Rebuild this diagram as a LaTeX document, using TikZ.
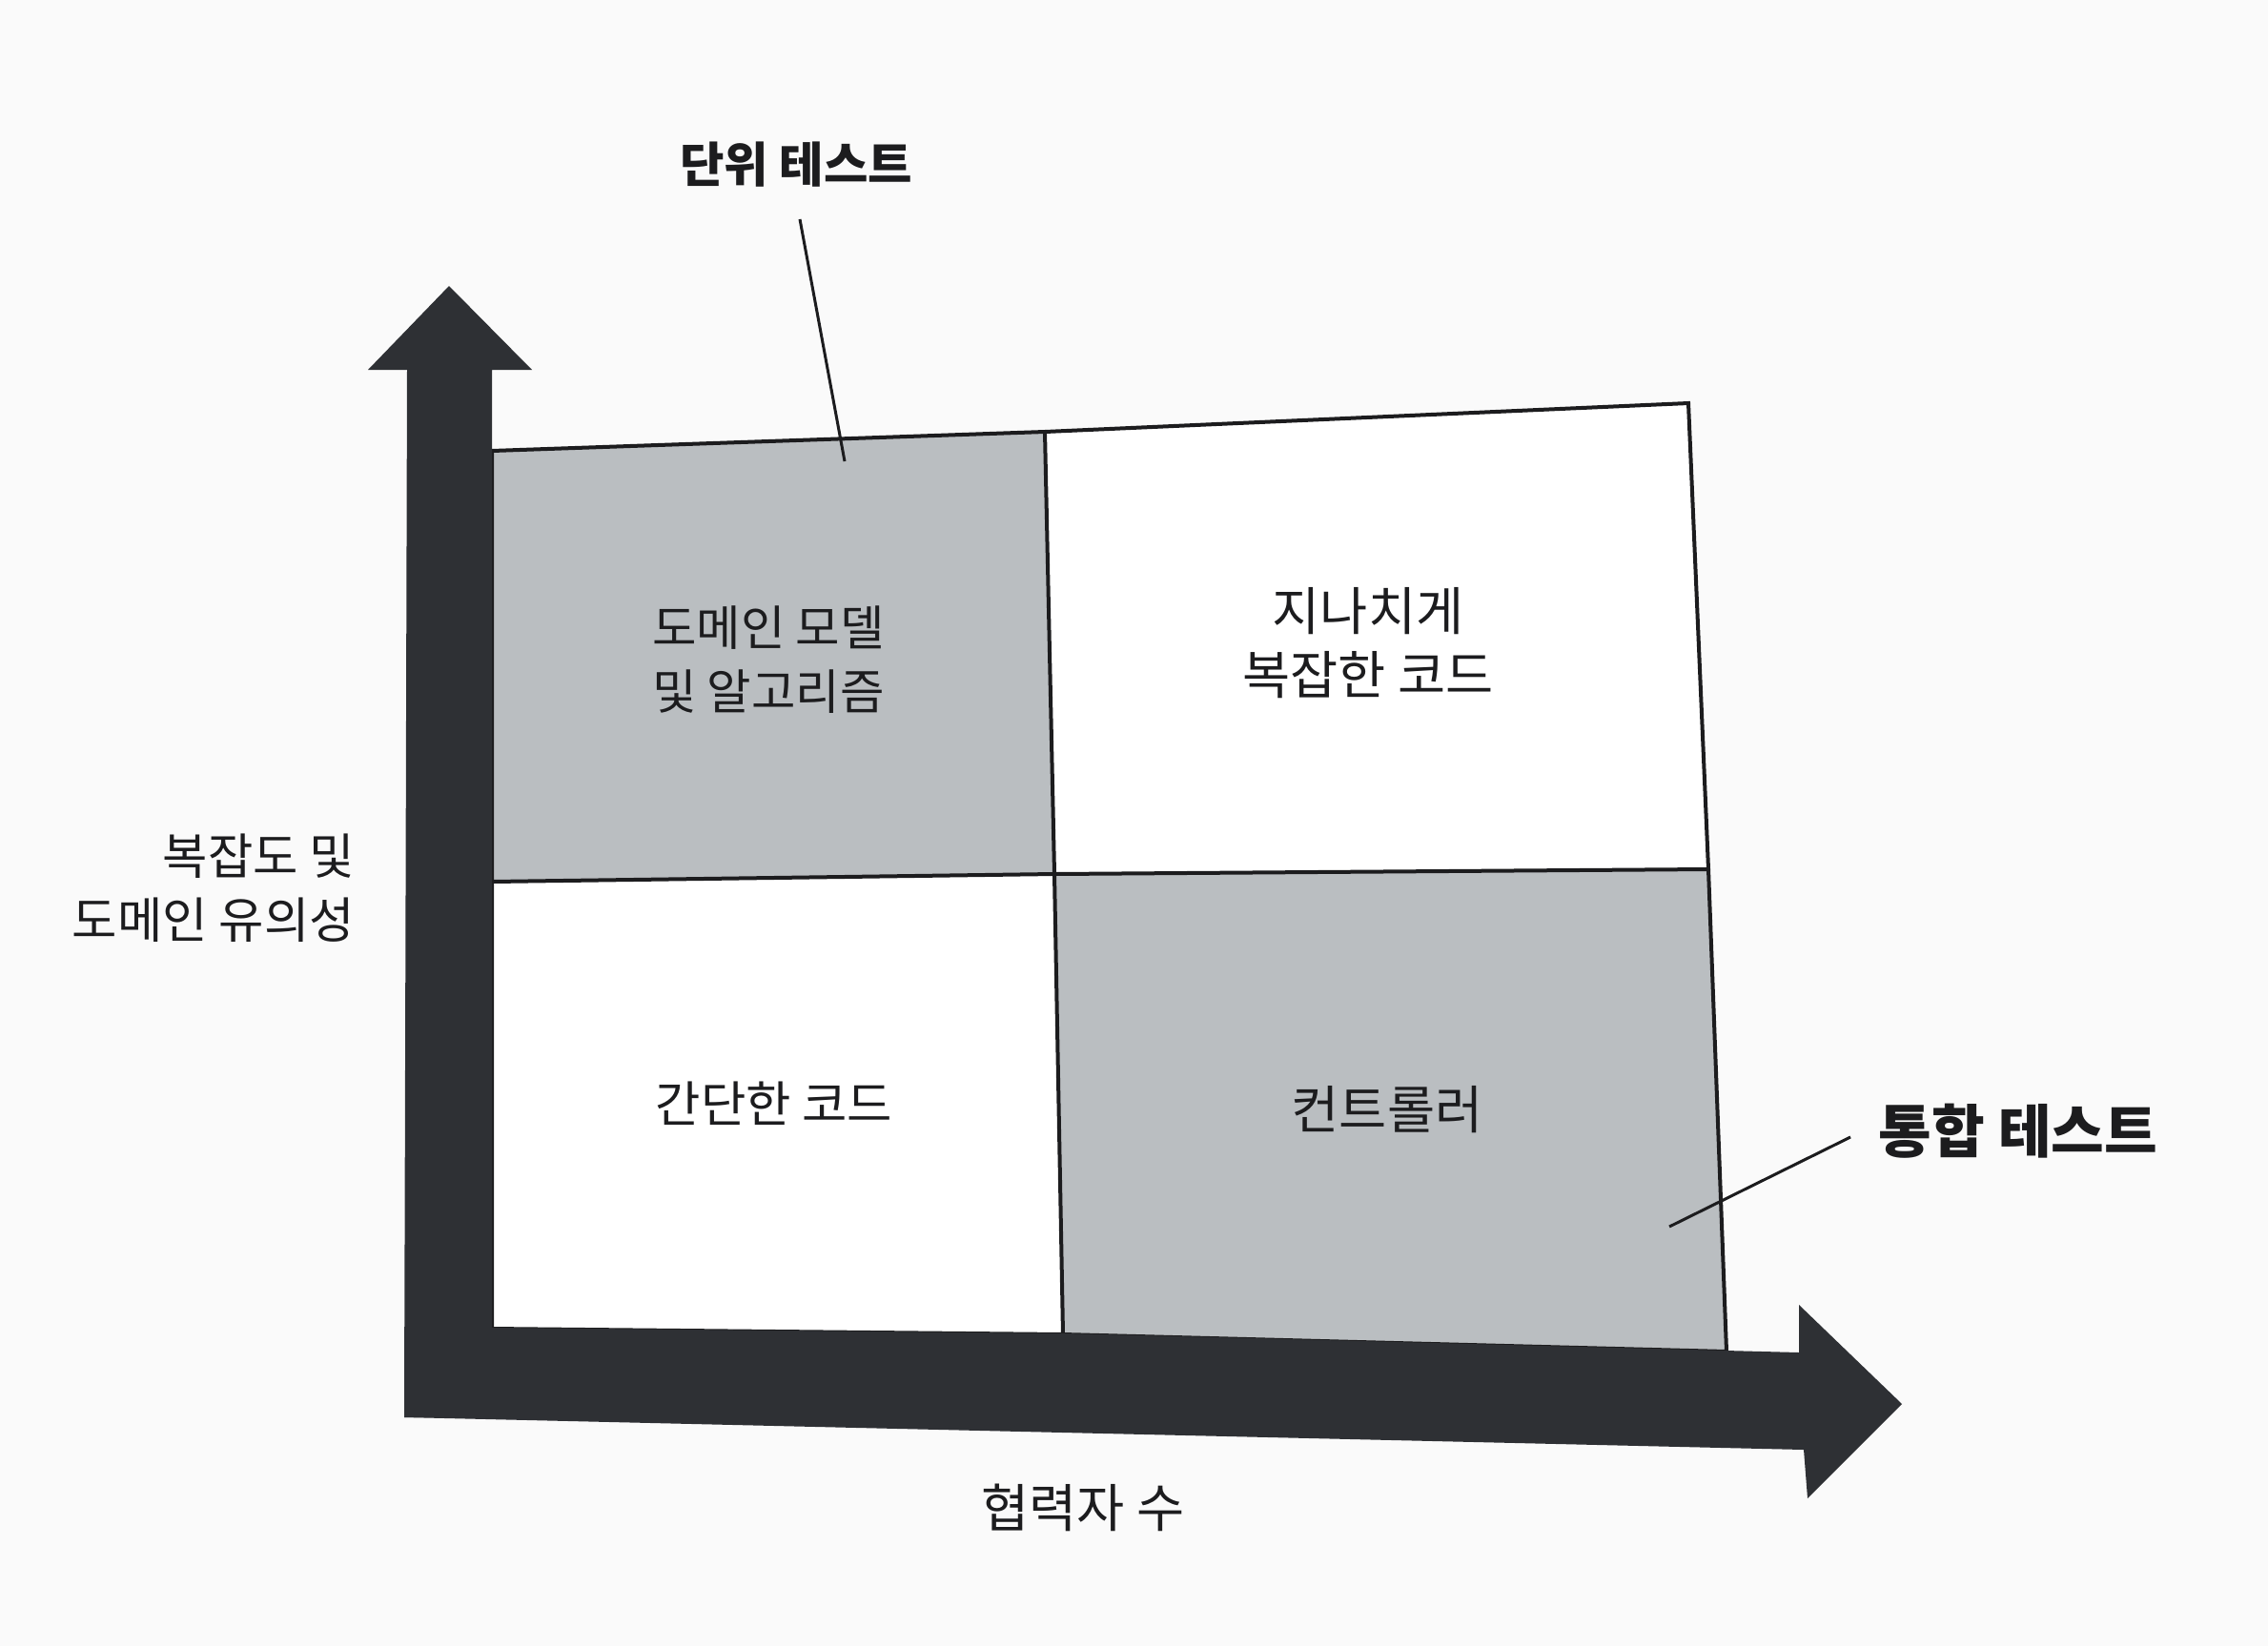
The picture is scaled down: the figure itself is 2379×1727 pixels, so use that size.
\documentclass[tikz,border=0pt]{standalone}
\usepackage{fontspec}
\setmainfont{Noto Sans CJK KR}
\definecolor{arrowdark}{RGB}{46,48,52}
\definecolor{boxgray}{RGB}{186,190,193}
\definecolor{inkline}{RGB}{28,28,30}
\definecolor{paper}{RGB}{250,250,250}
\begin{document}
\begin{tikzpicture}[x=1pt,y=-1pt,
  lbl/.style={inner sep=0pt, text=inkline, align=center},
  gridline/.style={draw=inkline, line width=4pt, line join=miter, line cap=round},
  leader/.style={draw=inkline, line width=3pt},
  bigarrow/.style={fill=arrowdark}]
\fill[paper] (0,0) rectangle (2379,1727);
\useasboundingbox (0,0) rectangle (2379,1727);
% grid corners
\coordinate (TL) at (516,473);
\coordinate (TM) at (1096,453);
\coordinate (TR) at (1771,423);
\coordinate (ML) at (516,925);
\coordinate (MC) at (1106,917);
\coordinate (MR) at (1792,912);
\coordinate (BL) at (516,1394);
\coordinate (BM) at (1115,1400);
\coordinate (BR) at (1811,1418);
% quadrants
\fill[boxgray] (TL) -- (TM) -- (MC) -- (ML) -- cycle;
\fill[white] (TM) -- (TR) -- (MR) -- (MC) -- cycle;
\fill[white] (ML) -- (MC) -- (BM) -- (BL) -- cycle;
\fill[boxgray] (MC) -- (MR) -- (BR) -- (BM) -- cycle;
\draw[gridline] (BL) -- (TL) -- (TM) -- (TR) -- (MR) -- (BR) -- (BM) -- cycle;
\draw[gridline] (TM) -- (MC) -- (BM);
\draw[gridline] (ML) -- (MC) -- (MR);
% horizontal axis arrow
\coordinate (hA) at (424,1392);
\coordinate (hB) at (1118,1399);
\coordinate (hC) at (1887,1419);
\coordinate (hD) at (1887,1369);
\coordinate (hE) at (1995,1473);
\coordinate (hF) at (1896,1572);
\coordinate (hG) at (1892,1521);
\coordinate (hH) at (424,1487);
\fill[bigarrow] (hA) -- (hB) -- (hC) -- (hD) -- (hE) -- (hF) -- (hG) -- (hH) -- cycle;
% vertical axis arrow
\coordinate (vA) at (471,300);
\coordinate (vB) at (558,388);
\coordinate (vC) at (516,388);
\coordinate (vD) at (516,1487);
\coordinate (vE) at (424,1487);
\coordinate (vF) at (427,388);
\coordinate (vG) at (386,388);
\fill[bigarrow] (vA) -- (vB) -- (vC) -- (vD) -- (vE) -- (vF) -- (vG) -- cycle;
% quadrant labels
\node[lbl, font=\fontsize{50.5}{67}\selectfont] (domain) at (806,692) {도메인 모델\\및 알고리즘};
\node[lbl, font=\fontsize{54.5}{67}\selectfont] (overly) at (1435,675) {지나치게\\복잡한 코드};
\node[lbl, font=\fontsize{51.5}{67}\selectfont] (simple) at (812,1158) {간단한 코드};
\node[lbl, font=\fontsize{54.5}{67}\selectfont] (ctrl) at (1455,1164) {컨트롤러};
% axis labels
\node[lbl, align=right, anchor=east, font=\fontsize{51.5}{67}\selectfont] (ylabel) at (372,932) {복잡도 및\\도메인 유의성};
\node[lbl, font=\fontsize{54.5}{67}\selectfont] (xlabel) at (1136,1582) {협력자 수};
% callouts
\node[lbl, font=\fontsize{50.5}{60}\selectfont\bfseries] (unitlbl) at (835,173) {단위 테스트};
\node[lbl, font=\fontsize{60.5}{70}\selectfont\bfseries] (intlbl) at (2117,1187) {통합 테스트};
\coordinate (utA) at (839,230);
\coordinate (utB) at (886,484);
\coordinate (itA) at (1941,1193);
\coordinate (itB) at (1751,1287);
\draw[leader] (utA) -- (utB);
\draw[leader] (itA) -- (itB);
\end{tikzpicture}
\end{document}
